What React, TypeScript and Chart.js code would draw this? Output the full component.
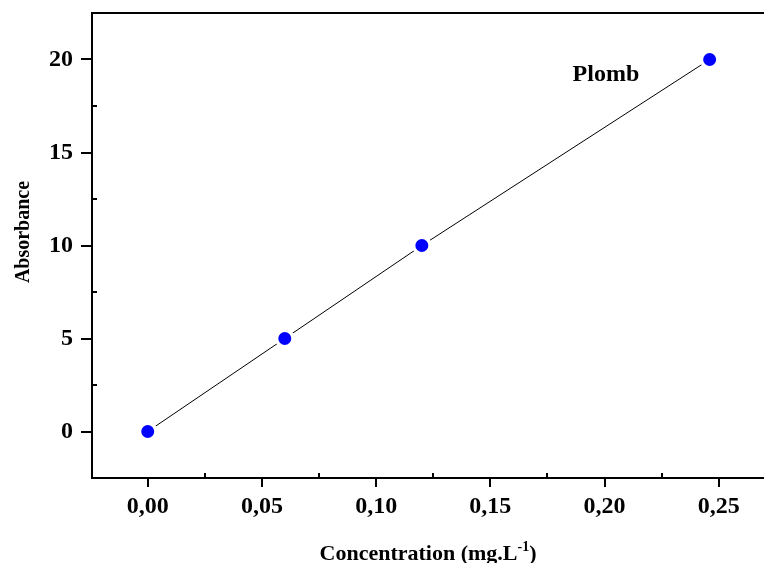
import { useEffect, useRef } from "react";
import { Chart, registerables } from "chart.js";
Chart.register(...registerables);

const concentrations = [0, 0.06, 0.12, 0.246];
const absorbances = [0, 5, 10, 20];
const xTickValues = [0, 0.05, 0.1, 0.15, 0.2, 0.25];
const yTickValues = [0, 5, 10, 15, 20];
const xMinorTicks = [0.025, 0.075, 0.125, 0.175, 0.225];
const yMinorTicks = [2.5, 7.5, 12.5, 17.5];
const seriesLabel = "Plomb";
const seriesLabelPos = { x: 0.186, y: 18.85 };
const xTitleMain = "Concentration (mg.L";
const xTitleSup = "-1";
const xTitleEnd = ")";
const yTitle = "Absorbance";

const FONT = '"Liberation Serif", "Times New Roman", serif';

const framePlugin = {
  id: "framePlugin",
  afterDraw(chart: any) {
    const { ctx, chartArea } = chart;
    const xs = chart.scales.x;
    const ys = chart.scales.y;
    const { left, right, top, bottom } = chartArea;
    ctx.save();
    ctx.strokeStyle = "#000";
    ctx.lineWidth = 2;
    ctx.lineCap = "butt";
    ctx.beginPath();
    ctx.moveTo(left, top);
    ctx.lineTo(right, top);
    ctx.moveTo(left, top - 1);
    ctx.lineTo(left, bottom + 1);
    ctx.moveTo(left - 1, bottom);
    ctx.lineTo(right, bottom);
    for (const v of xTickValues) {
      const px = Math.round(xs.getPixelForValue(v));
      ctx.moveTo(px, bottom);
      ctx.lineTo(px, bottom + 9);
    }
    for (const v of yTickValues) {
      const py = Math.round(ys.getPixelForValue(v));
      ctx.moveTo(left, py);
      ctx.lineTo(left - 11, py);
    }
    for (const v of xMinorTicks) {
      const px = Math.round(xs.getPixelForValue(v));
      ctx.moveTo(px, bottom);
      ctx.lineTo(px, bottom - 5);
    }
    for (const v of yMinorTicks) {
      const py = Math.round(ys.getPixelForValue(v));
      ctx.moveTo(left, py);
      ctx.lineTo(left + 5, py);
    }
    ctx.stroke();

    ctx.fillStyle = "#000";
    ctx.font = `bold 24px ${FONT}`;
    ctx.textAlign = "left";
    ctx.textBaseline = "alphabetic";
    ctx.fillText(
      seriesLabel,
      xs.getPixelForValue(seriesLabelPos.x),
      ys.getPixelForValue(seriesLabelPos.y)
    );

    ctx.save();
    ctx.font = `bold 20px ${FONT}`;
    ctx.translate(28.5, 232);
    ctx.rotate(-Math.PI / 2);
    ctx.textAlign = "center";
    ctx.fillText(yTitle, 0, 0);
    ctx.restore();

    const mainFont = `bold 22px ${FONT}`;
    const supFont = `bold 14px ${FONT}`;
    ctx.font = mainFont;
    const w1 = ctx.measureText(xTitleMain).width;
    const w3 = ctx.measureText(xTitleEnd).width;
    ctx.font = supFont;
    const w2 = ctx.measureText(xTitleSup).width;
    const total = w1 + w2 + w3;
    const cx = (left + right) / 2;
    const x0 = cx - total / 2;
    const base = 559.5;
    ctx.textAlign = "left";
    ctx.font = mainFont;
    ctx.fillText(xTitleMain, x0, base);
    ctx.font = supFont;
    ctx.fillText(xTitleSup, x0 + w1, base - 9);
    ctx.font = mainFont;
    ctx.fillText(xTitleEnd, x0 + w1 + w2, base);
    ctx.restore();
  },
};

export default function App() {
  const ref = useRef<HTMLCanvasElement | null>(null);
  useEffect(() => {
    if (!ref.current) return;
    const points = concentrations.map((c, i) => ({ x: c, y: absorbances[i] }));
    const zeroPad = (s: any) => {
      s.paddingTop = 0;
      s.paddingBottom = 0;
      s.paddingLeft = 0;
      s.paddingRight = 0;
    };
    const chart = new Chart(ref.current, {
      type: "scatter",
      data: {
        datasets: [
          {
            label: seriesLabel,
            data: points,
            showLine: false,
            pointRadius: 8.25,
            pointHoverRadius: 8.25,
            pointBorderWidth: 3.5,
            pointBackgroundColor: "#0000ff",
            pointBorderColor: "#ffffff",
          },
          {
            label: "fit",
            data: points,
            showLine: true,
            borderColor: "#000",
            borderWidth: 1,
            pointRadius: 0,
            fill: false,
          },
        ],
      },
      options: {
        animation: false,
        responsive: true,
        maintainAspectRatio: false,
        layout: { autoPadding: false, padding: { top: 13, right: 0, left: 0, bottom: 0 } },
        plugins: { legend: { display: false }, tooltip: { enabled: false } },
        scales: {
          x: {
            type: "linear",
            min: -0.0244,
            max: 0.2698,
            grid: { display: false, drawTicks: true, tickLength: 9 },
            border: { display: false },
            afterFit: (s: any) => {
              s.height = 85;
              zeroPad(s);
            },
            afterBuildTicks: (s: any) => {
              s.ticks = xTickValues.map((v) => ({ value: v }));
            },
            ticks: {
              color: "#000",
              padding: 5,
              maxRotation: 0,
              font: { family: FONT, size: 24, weight: "bold" },
              callback: (v: any) => Number(v).toFixed(2).replace(".", ","),
            },
          },
          y: {
            type: "linear",
            min: -2.5,
            max: 22.5,
            grid: { display: false, drawTicks: true, tickLength: 11 },
            border: { display: false },
            afterFit: (s: any) => {
              s.width = 92;
              zeroPad(s);
            },
            afterBuildTicks: (s: any) => {
              s.ticks = yTickValues.map((v) => ({ value: v }));
            },
            ticks: {
              color: "#000",
              padding: 8,
              font: { family: FONT, size: 24, weight: "bold" },
              callback: (v: any) => String(v),
            },
          },
        },
      },
      plugins: [framePlugin],
    });
    return () => chart.destroy();
  }, []);
  return (
    <div style={{ position: "fixed", left: 0, top: 0, width: 764, height: 563, background: "#fff" }}>
      <canvas ref={ref} />
    </div>
  );
}
